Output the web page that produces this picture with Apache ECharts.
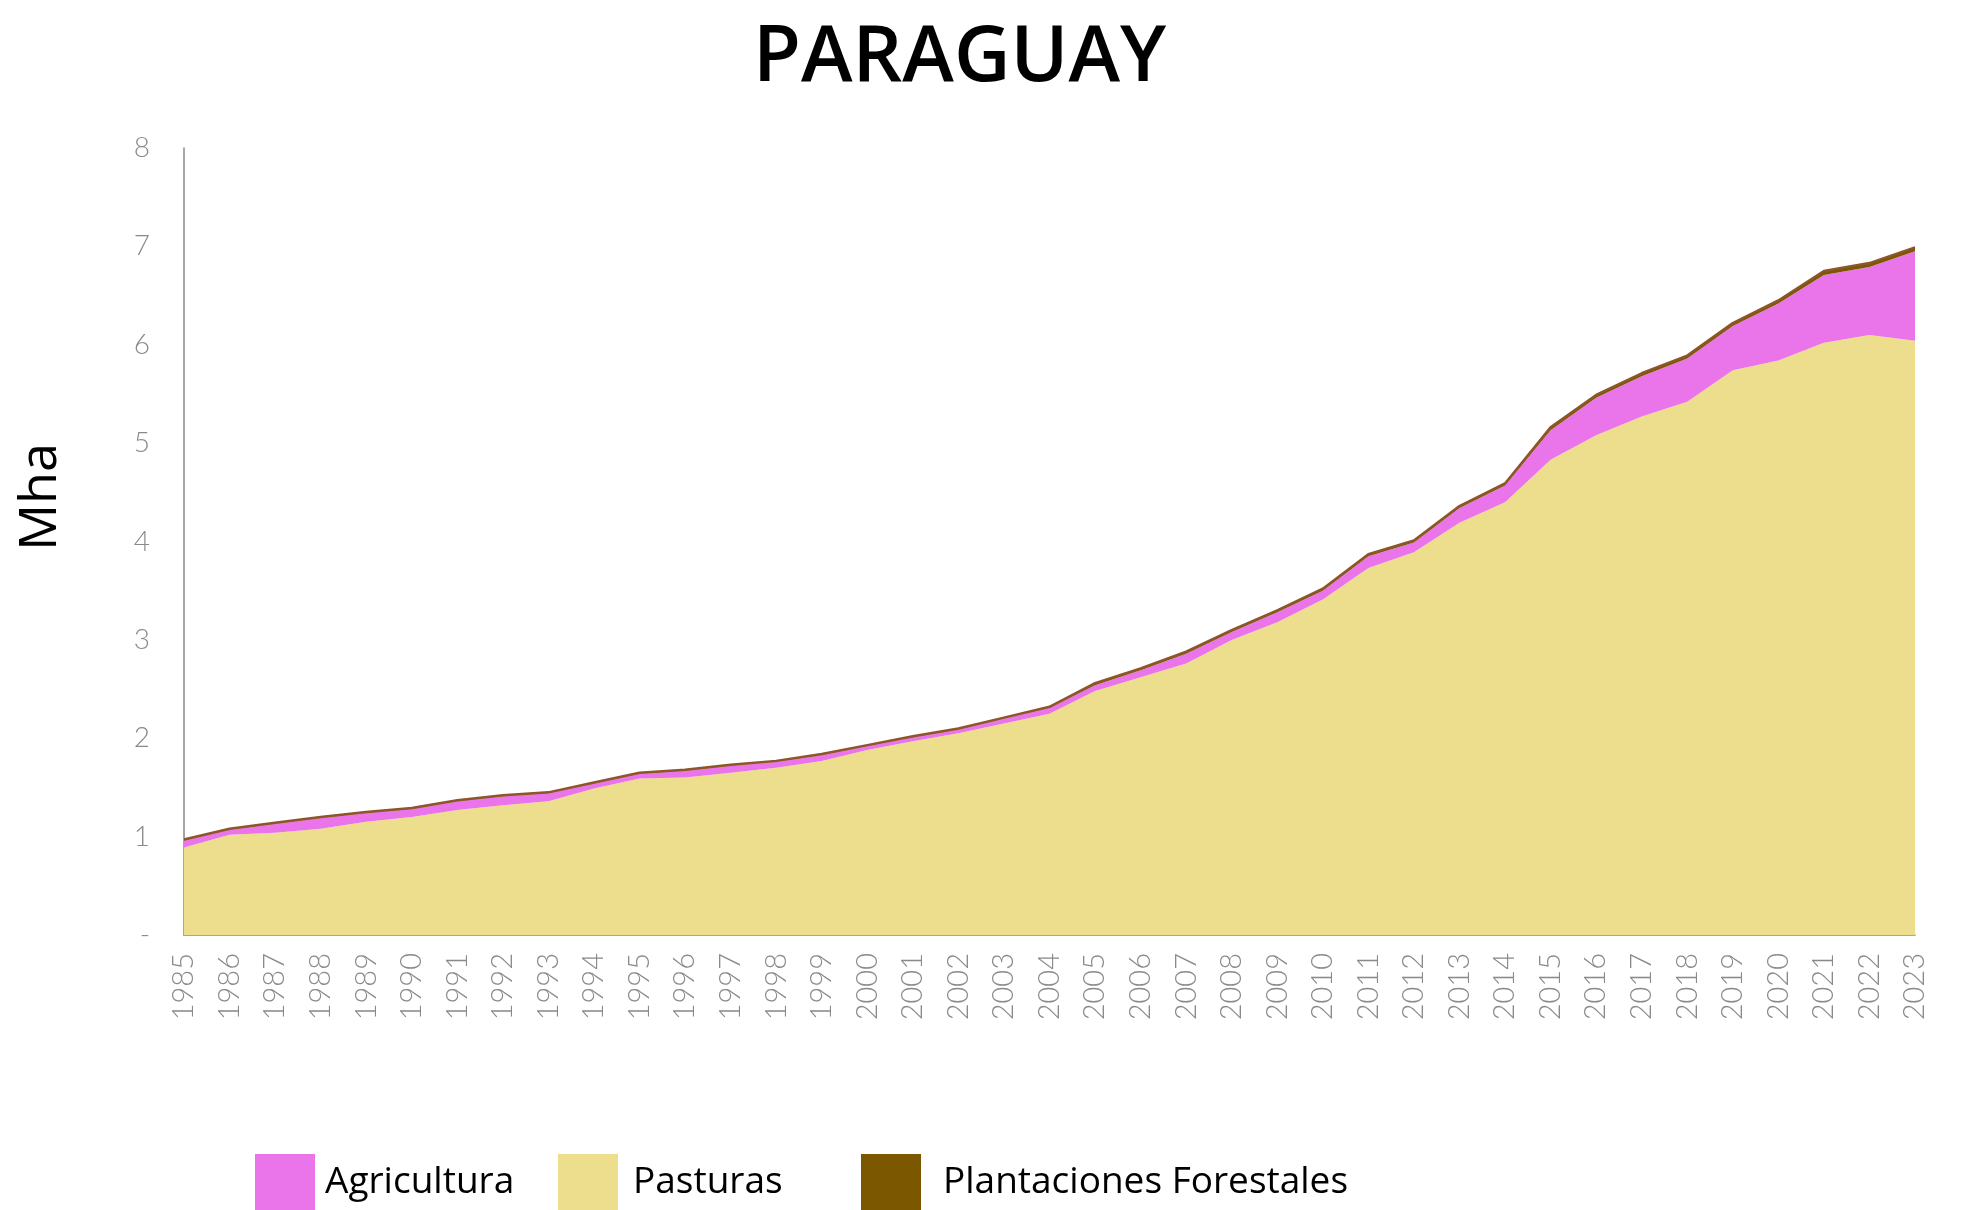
<!DOCTYPE html>
<html lang="es">

<head>
    <meta charset="UTF-8">
    <title>Paraguay</title>
    <script src="https://cdn.jsdelivr.net/npm/echarts@6/dist/echarts.min.js"></script>
    <style>
        html, body { margin: 0; padding: 0; background: #fff; }
    </style>
</head>

<body>
    <div id="chart" style="width:1963px;height:1210px;"></div>
</body>
<script>
    // años
    const years = ['1985', '1986', '1987', '1988', '1989', '1990', '1991', '1992', '1993', '1994',
        '1995', '1996', '1997', '1998', '1999', '2000', '2001', '2002', '2003', '2004',
        '2005', '2006', '2007', '2008', '2009', '2010', '2011', '2012', '2013', '2014',
        '2015', '2016', '2017', '2018', '2019', '2020', '2021', '2022', '2023'];

    // Mha
    const pasturas = [0.89, 1.02, 1.04, 1.08, 1.15, 1.20, 1.27, 1.32, 1.36, 1.49,
        1.59, 1.60, 1.65, 1.70, 1.77, 1.88, 1.97, 2.05, 2.15, 2.25,
        2.48, 2.62, 2.76, 3.00, 3.18, 3.41, 3.73, 3.89, 4.19, 4.40,
        4.83, 5.08, 5.27, 5.42, 5.74, 5.84, 6.02, 6.10, 6.04];

    const agricultura = [0.07, 0.05, 0.09, 0.11, 0.09, 0.08, 0.09, 0.09, 0.08, 0.05,
        0.05, 0.07, 0.07, 0.06, 0.06, 0.04, 0.04, 0.04, 0.05, 0.06,
        0.06, 0.07, 0.10, 0.08, 0.10, 0.09, 0.12, 0.10, 0.15, 0.17,
        0.30, 0.38, 0.41, 0.44, 0.45, 0.58, 0.69, 0.69, 0.91];

    const forestales = [0.01, 0.01, 0.01, 0.01, 0.01, 0.01, 0.01, 0.01, 0.01, 0.01,
        0.01, 0.01, 0.01, 0.01, 0.01, 0.01, 0.01, 0.01, 0.01, 0.01,
        0.02, 0.02, 0.02, 0.02, 0.02, 0.02, 0.02, 0.02, 0.02, 0.02,
        0.03, 0.03, 0.03, 0.03, 0.03, 0.03, 0.04, 0.04, 0.04];

    const yTicks = ['-', '1', '2', '3', '4', '5', '6', '7', '8'];

    const COLORS = {
        agri: '#EA74EA',
        past: '#ECDE8C',
        fore: '#7B5800',
        foreLine: '#8E5528'
    };

    var chart = echarts.init(document.getElementById('chart'));

    function legendAt(left, name, gap) {
        return {
            left: left,
            top: 1154,
            padding: 0,
            icon: 'rect',
            itemWidth: 60,
            itemHeight: 56,
            itemStyle: { borderWidth: 0 },
            data: [name],
            textStyle: {
                fontFamily: 'Open Sans',
                fontSize: 37,
                color: '#000',
                padding: [0, 0, 0, gap]
            }
        };
    }

    var options = {
        animation: false,
        backgroundColor: '#fff',
        title: {
            text: 'PARAGUAY',
            left: 748,
            top: 15,
            textStyle: {
                fontFamily: 'Open Sans',
                fontSize: 78,
                fontWeight: 600,
                color: '#000'
            }
        },
        // etiqueta del eje Y (no centrada en el eje)
        graphic: [{
            type: 'text',
            x: 41,
            y: 497,
            rotation: Math.PI / 2,
            style: {
                text: 'Mha',
                fontFamily: 'Open Sans',
                fontSize: 52,
                fill: '#000',
                textAlign: 'center',
                textVerticalAlign: 'middle'
            }
        }],
        legend: [
            legendAt(255, 'Agricultura', 5),
            legendAt(558, 'Pasturas', 10),
            legendAt(861, 'Plantaciones Forestales', 17)
        ],
        grid: {
            left: 184,
            right: 48,
            top: 148,
            bottom: 275,
            containLabel: false,
            outerBoundsMode: 'none'
        },
        xAxis: {
            type: 'category',
            boundaryGap: false,
            data: years,
            axisLine: { lineStyle: { color: '#888', width: 1.5 } },
            axisTick: { show: false },
            axisLabel: {
                rotate: 90,
                margin: 18,
                interval: 0,
                fontFamily: 'Lato',
                fontWeight: 300,
                fontSize: 29,
                color: '#8a8a8a'
            }
        },
        yAxis: {
            type: 'value',
            min: 0,
            max: 8,
            interval: 1,
            axisLine: { show: true, lineStyle: { color: '#888', width: 1.5 } },
            axisTick: { show: false },
            splitLine: { show: false },
            axisLabel: {
                margin: 34,
                fontFamily: 'Lato',
                fontWeight: 300,
                fontSize: 28,
                color: '#8a8a8a',
                formatter: function (v) {
                    return yTicks[Math.round(v)];
                }
            }
        },
        series: [{
            name: 'Pasturas',
            type: 'line',
            stack: 'total',
            data: pasturas,
            showSymbol: false,
            itemStyle: { color: COLORS.past },
            lineStyle: { width: 0 },
            areaStyle: { color: COLORS.past, opacity: 1 }
        }, {
            name: 'Agricultura',
            type: 'line',
            stack: 'total',
            data: agricultura,
            showSymbol: false,
            itemStyle: { color: COLORS.agri },
            lineStyle: { width: 0 },
            areaStyle: { color: COLORS.agri, opacity: 1 }
        }, {
            name: 'Plantaciones Forestales',
            type: 'line',
            stack: 'total',
            data: forestales,
            showSymbol: false,
            itemStyle: { color: COLORS.fore },
            lineStyle: { width: 2.5, color: COLORS.foreLine },
            areaStyle: { color: COLORS.fore, opacity: 1 }
        }]
    };

    chart.setOption(options);
</script>

</html>
